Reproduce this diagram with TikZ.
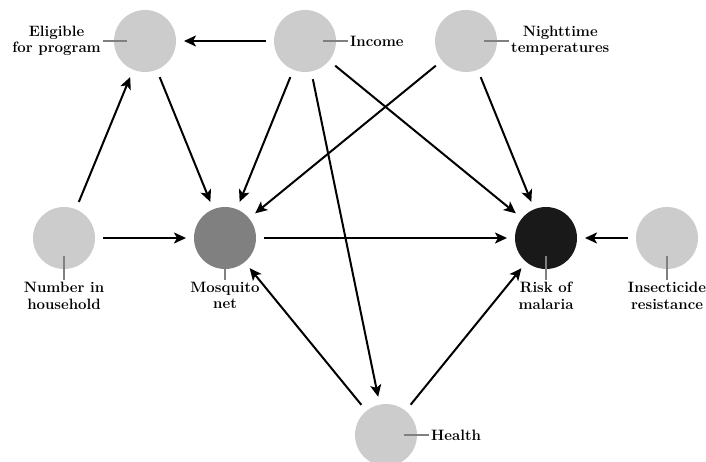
\documentclass[tikz,border=0pt]{standalone}
\usepackage{fontspec}
\usetikzlibrary{arrows.meta}
\begin{document}
\begin{tikzpicture}[x=1pt,y=-1pt,
  var/.style={circle,minimum size=62pt,inner sep=0pt,outer sep=8pt},
  lightvar/.style={var,fill=black!20},
  midvar/.style={var,fill=black!50},
  darkvar/.style={var,fill=black!90},
  edge/.style={line width=2pt,-{Stealth[length=12pt,width=11pt,inset=3pt]}},
  lblline/.style={draw=black!50,line width=1.5pt},
  lbl/.style={font=\fontsize{15}{16.5}\selectfont\bfseries,align=center,inner sep=2pt}]
\useasboundingbox (0,0) rectangle (706,462);
% nodes
\node[lightvar] (elig) at (145,41) {};
\node[lightvar] (inc) at (305,41) {};
\node[lightvar] (night) at (466,41) {};
\node[lightvar] (num) at (64,238) {};
\node[midvar] (net) at (225,238) {};
\node[darkvar] (risk) at (546,238) {};
\node[lightvar] (insect) at (667,238) {};
\node[lightvar] (health) at (386,435) {};
% label lines and labels
\draw[lblline] ([xshift=-18pt]elig.center) -- ++(-24,0) coordinate (le);
\node[lbl,anchor=east] (lelig) at (le) {Eligible\\for program};
\draw[lblline] ([xshift=18pt]inc.center) -- ++(25,0) coordinate (li);
\node[lbl,anchor=west] (linc) at (li) {Income};
\draw[lblline] ([xshift=18pt]night.center) -- ++(25,0) coordinate (ln);
\node[lbl,anchor=west] (lnight) at (ln) {Nighttime\\temperatures};
\draw[lblline] ([xshift=18pt]health.center) -- ++(25,0) coordinate (lh);
\node[lbl,anchor=west] (lhealth) at (lh) {Health};
\draw[lblline] ([yshift=-18pt]num.center) -- ++(0,24) coordinate (lnu);
\node[lbl,anchor=north] (lnum) at (lnu) {Number in\\household};
\draw[lblline] ([yshift=-18pt]net.center) -- ++(0,24) coordinate (lne);
\node[lbl,anchor=north] (lnet) at (lne) {Mosquito\\net};
\draw[lblline] ([yshift=-18pt]risk.center) -- ++(0,24) coordinate (lr);
\node[lbl,anchor=north] (lrisk) at (lr) {Risk of\\malaria};
\draw[lblline] ([yshift=-18pt]insect.center) -- ++(0,24) coordinate (lis);
\node[lbl,anchor=north] (linsect) at (lis) {Insecticide\\resistance};
% edges
\draw[edge] (inc) -- (elig);
\draw[edge] (num) -- (elig);
\draw[edge] (elig) -- (net);
\draw[edge] (inc) -- (net);
\draw[edge] (inc) -- (risk);
\draw[edge] (inc) -- (health);
\draw[edge] (night) -- (net);
\draw[edge] (night) -- (risk);
\draw[edge] (num) -- (net);
\draw[edge] (net) -- (risk);
\draw[edge] (insect) -- (risk);
\draw[edge] (health) -- (net);
\draw[edge] (health) -- (risk);
\end{tikzpicture}
\end{document}
